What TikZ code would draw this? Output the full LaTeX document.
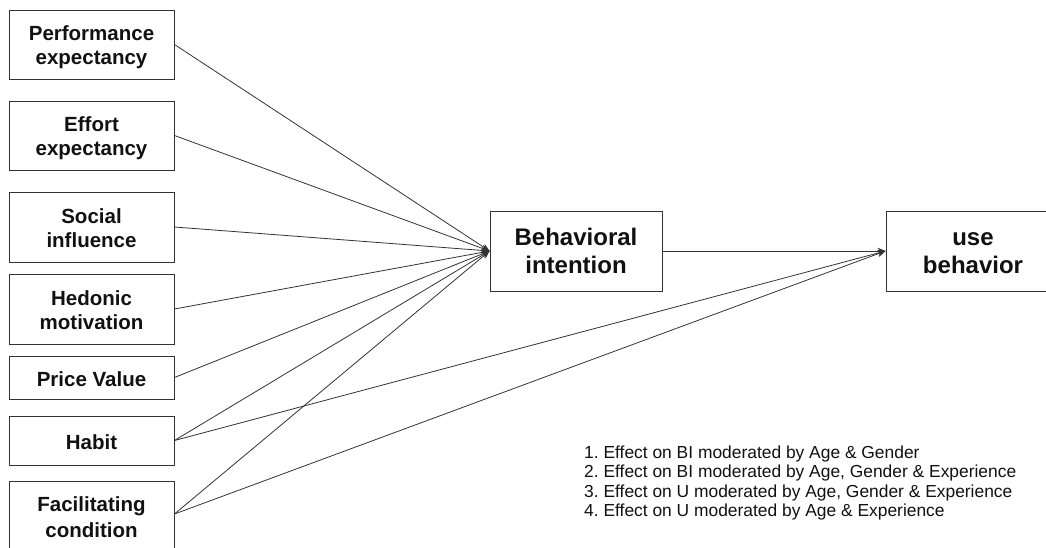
\documentclass[tikz,border=0pt]{standalone}
\usepackage{fontspec}
\setmainfont{Liberation Sans}
\usetikzlibrary{arrows.meta,calc}
\definecolor{edge}{HTML}{333333}
\definecolor{ink}{HTML}{111111}
\frenchspacing
% struts giving every label line the same height and depth
\newcommand{\fstrut}{\rule[-3pt]{0pt}{23pt}}
\newcommand{\mstrut}{\rule[-6pt]{0pt}{28pt}}
\tikzset{
  factor/.style={draw=edge, line width=0.9pt, fill=white, inner sep=0pt,
    minimum width=165pt, align=center, text=ink,
    font=\bfseries\fontsize{20.5}{24}\selectfont},
  mainbox/.style={draw=edge, line width=0.9pt, fill=white, inner sep=0pt,
    minimum width=172pt, minimum height=80pt, align=center, text=ink,
    font=\bfseries\fontsize{24}{28}\selectfont},
  link/.style={draw=edge, line width=0.8pt,
    -{Stealth[length=8pt,width=6.5pt]}},
  note/.style={anchor=base west, inner sep=0pt, text=ink,
    font=\fontsize{17.4}{19.5}\selectfont}
}
\begin{document}
\begin{tikzpicture}[x=1pt, y=-1pt]
  \useasboundingbox (0,0) rectangle (1046,548);
  \clip (0,0) rectangle (1046,548);

  % determinants
  \node[factor, minimum height=69pt] (pe) at (91.5,44.5) {\fstrut Performance\\\fstrut expectancy};
  \node[factor, minimum height=69pt] (ee) at (91.5,135.5) {\fstrut Effort\\\fstrut expectancy};
  \node[factor, minimum height=70pt] (si) at (91.5,227) {\fstrut Social\\\fstrut influence};
  \node[factor, minimum height=70pt] (hm) at (91.5,309) {\fstrut Hedonic\\\fstrut motivation};
  \node[factor, minimum height=43pt] (pv) at (91.5,377.5) {\fstrut Price Value};
  \node[factor, minimum height=49pt] (hb) at (91.5,440.5) {\fstrut Habit};
  \node[factor, minimum height=70pt] (fc) at (91.5,516) {\fstrut Facilitating\\\fstrut condition};

  % outcomes
  \node[mainbox] (bi) at (576,251) {\mstrut Behavioral\\\mstrut intention};
  \node[mainbox, minimum width=174pt] (ub) at (973,251) {\mstrut use\\\mstrut behavior};

  % paths into behavioral intention
  \foreach \src in {pe,ee,si,hm,pv,hb} {
    \draw[link] (\src.east) -- (bi.west);
  }
  \coordinate (fcout) at ($(fc.east)+(0,-2)$);
  \draw[link] (fcout) -- (bi.west);

  % paths into use behavior
  \draw[link] (bi.east) -- (ub.west);
  \draw[link] (hb.east) -- (ub.west);
  \draw[link] (fcout) -- (ub.west);

  % moderator notes
  \node[note] (n1) at (584,458) {1. Effect on BI moderated by Age \& Gender};
  \node[note] (n2) at (584,477.5) {2. Effect on BI moderated by Age, Gender \& Experience};
  \node[note] (n3) at (584,497) {3. Effect on U moderated by Age, Gender \& Experience};
  \node[note] (n4) at (584,516.5) {4. Effect on U moderated by Age \& Experience};
\end{tikzpicture}
\end{document}
